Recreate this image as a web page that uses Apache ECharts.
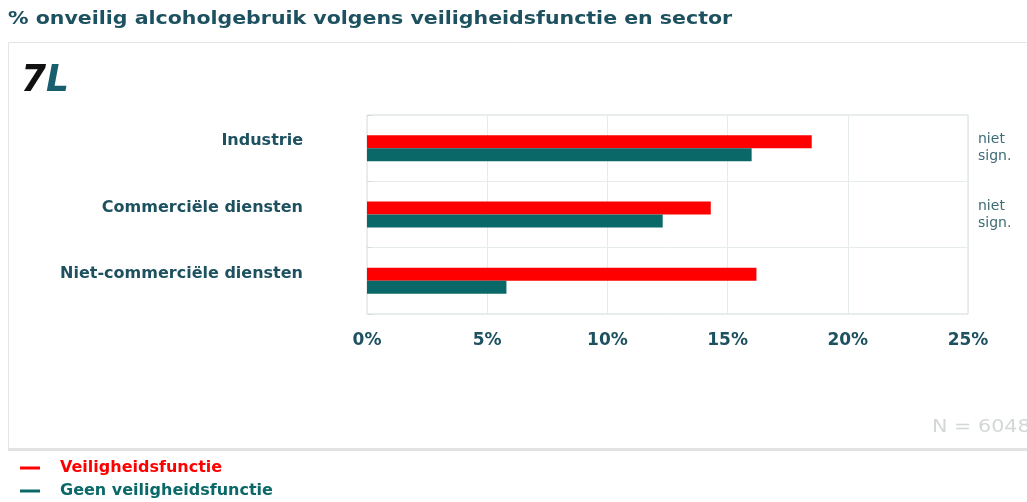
<!DOCTYPE html>
<html>
<head>
<meta charset="utf-8">
<script src="https://cdn.jsdelivr.net/npm/echarts@6/dist/echarts.min.js"></script>
<style>
  html, body { margin: 0; padding: 0; background: #fff; }
  #chart { width: 1027px; height: 502px; }
</style>
</head>
<body>
<div id="chart"></div>
<script>
// Sectors (top to bottom)
const categories = ['Industrie', 'Commerciële diensten', 'Niet-commerciële diensten'];
// Share of unsafe alcohol use (%)
const veiligheidsfunctie = [18.5, 14.3, 16.2];
const geenVeiligheidsfunctie = [16.0, 12.3, 5.8];
// Significance notes shown on the right of each sector
const significance = ['niet\nsign.', 'niet\nsign.', ''];
const xTicks = [0, 5, 10, 15, 20, 25];
const seriesNames = ['Veiligheidsfunctie', 'Geen veiligheidsfunctie'];
const titleText = '% onveilig alcoholgebruik volgens veiligheidsfunctie en sector';
const sampleText = 'N = 6048';

const RED = '#ff0000';
const TEAL = '#0b6868';
const INK = '#1d5160';
const FONT = '"DejaVu Sans", Verdana, sans-serif';

const chart = echarts.init(document.getElementById('chart'), null, { renderer: 'canvas' });

chart.setOption({
  backgroundColor: '#ffffff',
  animation: false,
  textStyle: { fontFamily: FONT },
  graphic: [
    // panel frame
    { type: 'rect', z: -10, silent: true,
      shape: { x: 8.5, y: 42.5, width: 1030, height: 406 },
      style: { fill: '#ffffff', stroke: '#e3e6e6', lineWidth: 1 } },
    { type: 'rect', z: -9, silent: true,
      shape: { x: 8, y: 448, width: 1030, height: 3 },
      style: { fill: '#e2e4e4' } },
    // heading
    { type: 'text', x: 8, y: 10, scaleX: 1.14,
      style: { text: titleText, font: 'bold 18px ' + FONT, fill: INK } },
    // logo
    { type: 'text', x: 21, y: 62, scaleX: 0.95,
      style: {
        text: '{a|7}{b|L}',
        rich: {
          a: { font: 'italic 900 38px ' + FONT, fill: '#111111' },
          b: { font: 'italic 900 38px ' + FONT, fill: '#175f6e' }
        }
      } },
    // sample size
    { type: 'text', x: 932, y: 418, scaleX: 1.15,
      style: { text: sampleText, font: '18px ' + FONT, fill: '#d3d7d7' } }
  ],
  legend: {
    orient: 'vertical',
    left: 20,
    top: 460,
    padding: 0,
    itemWidth: 20,
    itemHeight: 3,
    itemGap: 7,
    icon: 'rect',
    data: [
      { name: seriesNames[0], textStyle: { color: RED } },
      { name: seriesNames[1], textStyle: { color: TEAL } }
    ],
    textStyle: { fontFamily: FONT, fontWeight: 'bold', fontSize: 16, padding: [0, 0, 0, 15] }
  },
  grid: {
    left: 367, right: 59, top: 115, height: 199,
    show: true, borderColor: '#d6dcdc', borderWidth: 1
  },
  xAxis: {
    type: 'value',
    min: 0, max: 25, interval: 5,
    axisLine: { show: false },
    axisTick: { show: false },
    splitLine: { show: true, lineStyle: { color: '#e6ecec', width: 1 } },
    axisLabel: {
      margin: 18,
      fontFamily: FONT, fontWeight: 'bold', fontSize: 17, color: INK,
      formatter: v => (xTicks.indexOf(v) >= 0 ? v + '%' : '')
    }
  },
  yAxis: [
    {
      type: 'category',
      data: categories,
      inverse: true,
      axisLine: { show: false },
      axisTick: { show: true, length: 5, inside: true, lineStyle: { color: '#d6dcdc' } },
      splitLine: { show: true, lineStyle: { color: '#e6ecec', width: 1 } },
      axisLabel: {
        margin: 64,
        fontFamily: FONT, fontWeight: 'bold', fontSize: 16, color: INK,
        verticalAlign: 'bottom', lineHeight: 14
      }
    },
    {
      type: 'category',
      data: categories,
      inverse: true,
      position: 'right',
      axisLine: { show: false },
      axisTick: { show: false },
      splitLine: { show: false },
      axisLabel: {
        margin: 10,
        fontFamily: FONT, fontSize: 14, color: '#3d6b75', lineHeight: 17, align: 'left',
        formatter: (v, i) => significance[i]
      }
    }
  ],
  series: [
    {
      name: seriesNames[0], type: 'bar', yAxisIndex: 0,
      data: veiligheidsfunctie,
      barWidth: 13, barGap: '0%',
      itemStyle: { color: RED }
    },
    {
      name: seriesNames[1], type: 'bar', yAxisIndex: 0,
      data: geenVeiligheidsfunctie,
      barWidth: 13, barGap: '0%',
      itemStyle: { color: TEAL }
    }
  ]
});
</script>
</body>
</html>
